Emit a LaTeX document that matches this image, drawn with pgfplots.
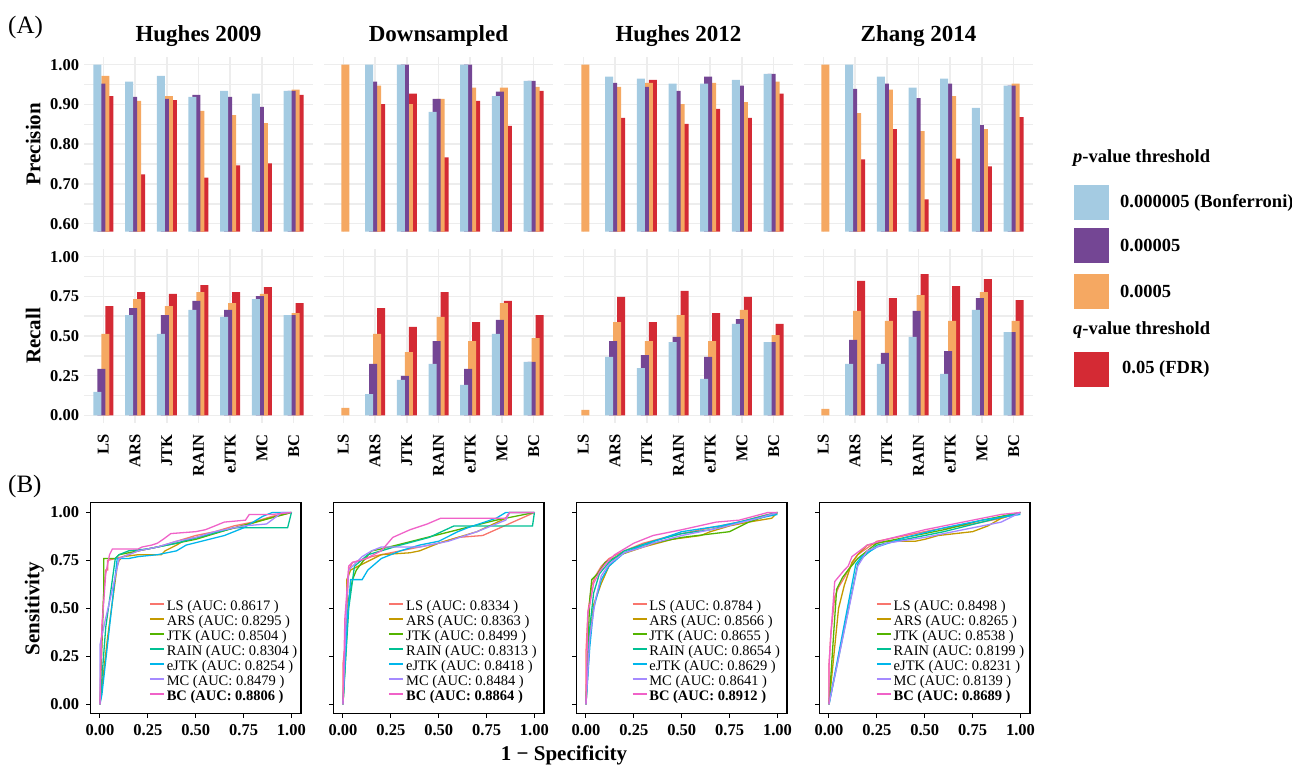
\documentclass[border=0pt]{standalone}
\usepackage{fontspec}
\setmainfont{Liberation Serif}
\usepackage{pgfplots}
\pgfplotsset{compat=1.18}
\definecolor{clb}{HTML}{A4CBE2}
\definecolor{cpu}{HTML}{744694}
\definecolor{cor}{HTML}{F5A862}
\definecolor{crd}{HTML}{D42A34}
\definecolor{gridc}{HTML}{EDEDED}
\definecolor{rLS}{HTML}{F8766D}
\definecolor{rARS}{HTML}{C49A00}
\definecolor{rJTK}{HTML}{53B400}
\definecolor{rRAIN}{HTML}{00C094}
\definecolor{reJTK}{HTML}{00B6EB}
\definecolor{rMC}{HTML}{A58AFF}
\definecolor{rBC}{HTML}{F062C8}
\newcommand\tickfont{\fontsize{16.5}{18}\selectfont\bfseries}
\pgfplotsset{
  barpanel/.style={
    scale only axis, width=228.4pt,
    xmin=-0.6, xmax=6.6, xtick={0,...,6}, xticklabels={},
    axis line style={draw=none}, major tick length=0pt, minor tick length=0pt,
    xmajorgrids, ymajorgrids, yminorgrids,
    major grid style={color=gridc, line width=1.5pt},
    minor grid style={color=gridc, line width=1.5pt},
    ybar, bar width=8pt,
    tick label style={font=\tickfont},
    yticklabel style={inner sep=0pt}, yticklabel shift=5pt,
    title style={font=\fontsize{23}{26}\selectfont\bfseries, anchor=base, at={(axis description cs:0.5,1)}, yshift=8.7pt},
    every axis y label/.style={at={(axis description cs:0,0.5)}, xshift=-51pt, rotate=90, anchor=center, font=\fontsize{21}{24}\selectfont\bfseries},
  },
  precpanel/.style={barpanel, height=175pt, ymin=0.58, ymax=1.02,
    ytick={0.6,0.7,0.8,0.9,1.0}, minor ytick={0.65,0.75,0.85,0.95}, yticklabels={}},
  recpanel/.style={barpanel, height=174.4pt, ymin=-0.05, ymax=1.05,
    ytick={0,0.25,0.5,0.75,1}, minor ytick={0.125,0.375,0.625,0.875}, yticklabels={},
    xticklabels={LS,ARS,JTK,RAIN,eJTK,MC,BC},
    xticklabel style={rotate=90, anchor=east, inner sep=0pt}, xticklabel shift=11pt},
  rocpanel/.style={
    scale only axis, width=210.6pt, height=211pt,
    xmin=-0.05, xmax=1.05, ymin=-0.05, ymax=1.05,
    xtick={0,0.25,0.5,0.75,1}, xticklabels={0.00,0.25,0.50,0.75,1.00},
    ytick={0,0.25,0.5,0.75,1}, yticklabels={},
    axis line style={line width=1.1pt, black},
    tick align=outside, major tick length=4pt, tick style={black, line width=1pt},
    xtick pos=bottom, ytick pos=left,
    tick label style={font=\tickfont},
    xticklabel style={inner sep=0pt}, xticklabel shift=6pt,
    yticklabel style={inner sep=0pt}, yticklabel shift=7pt,
    every axis y label/.style={at={(axis description cs:0,0.5)}, xshift=-56pt, rotate=90, anchor=center, font=\fontsize{21}{24}\selectfont\bfseries},
    every axis plot/.append style={line width=1.3pt, no markers},
    legend cell align=left,
    legend image code/.code={\draw[##1, line width=1.6pt] (0pt,3.5pt) -- (14pt,3.5pt);},
    legend style={draw=none, fill=none, inner sep=0pt, anchor=north west,
      font=\fontsize{14.5}{15}\selectfont,
      nodes={inner sep=0pt, text height=10.5pt, text depth=4.5pt}, column sep=2pt},
  },
}
\newcommand\bars[4]{%
  \addplot[fill=crd, draw=none, bar shift=6pt] coordinates {#4};
  \addplot[fill=cor, draw=none, bar shift=2pt] coordinates {#3};
  \addplot[fill=cpu, draw=none, bar shift=-2pt] coordinates {#2};
  \addplot[fill=clb, draw=none, bar shift=-6pt] coordinates {#1};}
\begin{document}
\begin{tikzpicture}
\path[use as bounding box] (0pt,0pt) rectangle (1292pt,765pt);
% ---------- Precision row ----------
\begin{axis}[precpanel, at={(84.3pt,533.3pt)}, anchor=south west, title={Hughes 2009},
  yticklabels={0.60,0.70,0.80,0.90,1.00}, ylabel={Precision}]
\bars{(0,1.00)(1,0.957)(2,0.972)(3,0.919)(4,0.934)(5,0.927)(6,0.934)}
     {(0,0.952)(1,0.919)(2,0.914)(3,0.924)(4,0.919)(5,0.894)(6,0.934)}
     {(0,0.972)(1,0.909)(2,0.921)(3,0.884)(4,0.873)(5,0.853)(6,0.937)}
     {(0,0.921)(1,0.724)(2,0.911)(3,0.716)(4,0.747)(5,0.752)(6,0.924)}
\end{axis}
\begin{axis}[precpanel, at={(324.3pt,533.3pt)}, anchor=south west, title={Downsampled}]
\bars{(1,1.00)(2,1.00)(3,0.881)(4,1.00)(5,0.921)(6,0.959)}
     {(1,0.957)(2,1.00)(3,0.914)(4,1.00)(5,0.932)(6,0.959)}
     {(0,1.00)(1,0.947)(2,0.901)(3,0.914)(4,0.942)(5,0.942)(6,0.944)}
     {(1,0.901)(2,0.927)(3,0.767)(4,0.909)(5,0.846)(6,0.934)}
\end{axis}
\begin{axis}[precpanel, at={(564.3pt,533.3pt)}, anchor=south west, title={Hughes 2012}]
\bars{(1,0.970)(2,0.965)(3,0.952)(4,0.952)(5,0.962)(6,0.977)}
     {(1,0.954)(2,0.944)(3,0.934)(4,0.970)(5,0.947)(6,0.977)}
     {(0,1.00)(1,0.944)(2,0.954)(3,0.901)(4,0.954)(5,0.906)(6,0.957)}
     {(1,0.866)(2,0.962)(3,0.851)(4,0.889)(5,0.866)(6,0.927)}
\end{axis}
\begin{axis}[precpanel, at={(804.3pt,533.3pt)}, anchor=south west, title={Zhang 2014}]
\bars{(1,1.00)(2,0.970)(3,0.942)(4,0.965)(5,0.891)(6,0.947)}
     {(1,0.939)(2,0.952)(3,0.916)(4,0.952)(5,0.848)(6,0.947)}
     {(0,1.00)(1,0.878)(2,0.937)(3,0.833)(4,0.921)(5,0.838)(6,0.952)}
     {(1,0.762)(2,0.838)(3,0.661)(4,0.764)(5,0.744)(6,0.868)}
\end{axis}
% ---------- Recall row ----------
\begin{axis}[recpanel, at={(84.3pt,341.8pt)}, anchor=south west,
  yticklabels={0.00,0.25,0.50,0.75,1.00}, ylabel={Recall}]
\bars{(0,0.147)(1,0.632)(2,0.513)(3,0.664)(4,0.620)(5,0.733)(6,0.632)}
     {(0,0.292)(1,0.676)(2,0.632)(3,0.721)(4,0.664)(5,0.752)(6,0.632)}
     {(0,0.513)(1,0.733)(2,0.689)(3,0.777)(4,0.708)(5,0.765)(6,0.645)}
     {(0,0.689)(1,0.777)(2,0.765)(3,0.821)(4,0.777)(5,0.809)(6,0.708)}
\end{axis}
\begin{axis}[recpanel, at={(324.3pt,341.8pt)}, anchor=south west]
\bars{(1,0.134)(2,0.223)(3,0.324)(4,0.191)(5,0.513)(6,0.336)}
     {(1,0.324)(2,0.248)(3,0.468)(4,0.292)(5,0.601)(6,0.336)}
     {(0,0.046)(1,0.513)(2,0.399)(3,0.620)(4,0.468)(5,0.708)(6,0.487)}
     {(1,0.676)(2,0.557)(3,0.777)(4,0.588)(5,0.721)(6,0.632)}
\end{axis}
\begin{axis}[recpanel, at={(564.3pt,341.8pt)}, anchor=south west]
\bars{(1,0.368)(2,0.298)(3,0.462)(4,0.229)(5,0.576)(6,0.462)}
     {(1,0.468)(2,0.380)(3,0.494)(4,0.368)(5,0.607)(6,0.462)}
     {(0,0.034)(1,0.588)(2,0.468)(3,0.632)(4,0.468)(5,0.664)(6,0.506)}
     {(1,0.746)(2,0.588)(3,0.784)(4,0.645)(5,0.746)(6,0.576)}
\end{axis}
\begin{axis}[recpanel, at={(804.3pt,341.8pt)}, anchor=south west]
\bars{(1,0.324)(2,0.324)(3,0.494)(4,0.261)(5,0.664)(6,0.525)}
     {(1,0.475)(2,0.393)(3,0.658)(4,0.405)(5,0.739)(6,0.525)}
     {(0,0.040)(1,0.658)(2,0.595)(3,0.758)(4,0.595)(5,0.777)(6,0.595)}
     {(1,0.847)(2,0.739)(3,0.891)(4,0.815)(5,0.859)(6,0.727)}
\end{axis}
% ---------- ROC row ----------
\begin{axis}[rocpanel, at={(90.4pt,51.1pt)}, anchor=south west,
  yticklabels={0.00,0.25,0.50,0.75,1.00}, ylabel={Sensitivity},
  legend style={at={(axis cs:0.256,0.545)}}]
\addplot[rLS] coordinates {(0,0)(0.005,0.3)(0.02,0.58)(0.03,0.70)(0.04,0.70)(0.04,0.75)(0.08,0.76)(0.12,0.77)(0.2,0.80)(0.3,0.82)(0.4,0.85)(0.5,0.88)(0.6,0.90)(0.7,0.93)(0.8,0.95)(0.9,0.98)(1,1)};
\addlegendentry{LS (AUC: 0.8617 )}
\addplot[rARS] coordinates {(0,0)(0.04,0.35)(0.09,0.72)(0.1,0.75)(0.12,0.77)(0.2,0.78)(0.32,0.78)(0.34,0.80)(0.4,0.83)(0.45,0.86)(0.55,0.88)(0.62,0.90)(0.75,0.93)(0.85,0.96)(0.92,0.98)(1,1)};
\addlegendentry{ARS (AUC: 0.8295 )}
\addplot[rJTK] coordinates {(0,0)(0.01,0.3)(0.02,0.6)(0.02,0.76)(0.08,0.76)(0.1,0.78)(0.2,0.80)(0.3,0.82)(0.5,0.86)(0.7,0.92)(1,1)};
\addlegendentry{JTK (AUC: 0.8504 )}
\addplot[rRAIN] coordinates {(0,0)(0.03,0.4)(0.08,0.76)(0.1,0.78)(0.15,0.80)(0.25,0.81)(0.4,0.84)(0.55,0.88)(0.7,0.92)(0.98,0.92)(1,1)};
\addlegendentry{RAIN (AUC: 0.8304 )}
\addplot[reJTK] coordinates {(0,0)(0.01,0.05)(0.09,0.76)(0.15,0.76)(0.2,0.77)(0.3,0.78)(0.4,0.80)(0.45,0.83)(0.57,0.86)(0.65,0.88)(0.75,0.92)(0.85,0.98)(0.9,1)(1,1)};
\addlegendentry{eJTK (AUC: 0.8254 )}
\addplot[rMC] coordinates {(0,0)(0,0.31)(0.03,0.45)(0.07,0.62)(0.1,0.76)(0.2,0.80)(0.3,0.82)(0.4,0.85)(0.5,0.87)(0.6,0.90)(0.75,0.93)(0.87,0.94)(0.95,1)(1,1)};
\addlegendentry{MC (AUC: 0.8479 )}
\addplot[rBC] coordinates {(0,0)(0.01,0.4)(0.03,0.68)(0.05,0.78)(0.065,0.81)(0.2,0.81)(0.22,0.82)(0.27,0.83)(0.3,0.84)(0.33,0.86)(0.37,0.89)(0.5,0.90)(0.55,0.91)(0.6,0.93)(0.65,0.95)(0.76,0.96)(0.78,0.99)(0.9,0.99)(1,1)};
\addlegendentry{\textbf{BC (AUC: 0.8806 )}}
\end{axis}
\begin{axis}[rocpanel, at={(333.4pt,51.1pt)}, anchor=south west,
  legend style={at={(axis cs:0.237,0.545)}}]
\addplot[rLS] coordinates {(0,0)(0,0.21)(0.01,0.3)(0.03,0.70)(0.05,0.74)(0.1,0.75)(0.15,0.77)(0.2,0.78)(0.3,0.80)(0.4,0.82)(0.5,0.84)(0.6,0.87)(0.73,0.88)(1,1)};
\addlegendentry{LS (AUC: 0.8334 )}
\addplot[rARS] coordinates {(0,0)(0.02,0.45)(0.02,0.65)(0.04,0.70)(0.1,0.73)(0.14,0.75)(0.2,0.78)(0.35,0.79)(0.4,0.80)(0.45,0.82)(0.5,0.84)(0.6,0.87)(0.7,0.90)(0.85,0.97)(0.87,1)(1,1)};
\addlegendentry{ARS (AUC: 0.8363 )}
\addplot[rJTK] coordinates {(0,0)(0.03,0.55)(0.05,0.65)(0.07,0.70)(0.1,0.74)(0.15,0.80)(0.2,0.81)(0.4,0.86)(0.6,0.91)(0.8,0.96)(1,1)};
\addlegendentry{JTK (AUC: 0.8499 )}
\addplot[rRAIN] coordinates {(0,0)(0.03,0.5)(0.06,0.72)(0.13,0.78)(0.2,0.80)(0.3,0.83)(0.45,0.87)(0.58,0.93)(0.99,0.93)(1,1)};
\addlegendentry{RAIN (AUC: 0.8313 )}
\addplot[reJTK] coordinates {(0,0)(0.02,0.4)(0.04,0.65)(0.1,0.65)(0.13,0.70)(0.2,0.76)(0.3,0.80)(0.4,0.83)(0.5,0.85)(0.6,0.90)(0.65,0.92)(0.8,0.97)(0.85,1)(1,1)};
\addlegendentry{eJTK (AUC: 0.8418 )}
\addplot[rMC] coordinates {(0,0)(0.02,0.55)(0.03,0.70)(0.1,0.77)(0.15,0.80)(0.2,0.82)(0.4,0.82)(0.5,0.84)(0.55,0.85)(0.7,0.90)(0.85,0.96)(0.87,1)(1,1)};
\addlegendentry{MC (AUC: 0.8484 )}
\addplot[rBC] coordinates {(0,0)(0.01,0.45)(0.03,0.72)(0.05,0.74)(0.12,0.76)(0.16,0.78)(0.2,0.80)(0.26,0.87)(0.35,0.91)(0.44,0.94)(0.51,0.97)(0.85,0.97)(0.87,1)(1,1)};
\addlegendentry{\textbf{BC (AUC: 0.8864 )}}
\end{axis}
\begin{axis}[rocpanel, at={(576.4pt,51.1pt)}, anchor=south west,
  legend style={at={(axis cs:0.238,0.545)}}]
\addplot[rLS] coordinates {(0,0)(0,0.27)(0.01,0.48)(0.03,0.62)(0.05,0.67)(0.08,0.72)(0.12,0.76)(0.2,0.80)(0.3,0.84)(0.45,0.88)(0.6,0.91)(0.8,0.95)(0.95,0.99)(1,1)};
\addlegendentry{LS (AUC: 0.8784 )}
\addplot[rARS] coordinates {(0,0)(0.02,0.35)(0.04,0.52)(0.08,0.63)(0.12,0.72)(0.18,0.78)(0.3,0.82)(0.45,0.86)(0.6,0.88)(0.65,0.90)(0.75,0.93)(0.85,0.95)(0.97,0.97)(1,1)};
\addlegendentry{ARS (AUC: 0.8566 )}
\addplot[rJTK] coordinates {(0,0)(0.01,0.3)(0.02,0.55)(0.03,0.65)(0.06,0.68)(0.1,0.74)(0.18,0.78)(0.3,0.83)(0.5,0.87)(0.75,0.90)(0.85,0.95)(1,1)};
\addlegendentry{JTK (AUC: 0.8655 )}
\addplot[rRAIN] coordinates {(0,0)(0.02,0.4)(0.04,0.58)(0.07,0.68)(0.12,0.74)(0.2,0.80)(0.35,0.85)(0.5,0.89)(0.65,0.91)(0.8,0.95)(1,1)};
\addlegendentry{RAIN (AUC: 0.8654 )}
\addplot[reJTK] coordinates {(0,0)(0.02,0.3)(0.04,0.5)(0.08,0.65)(0.12,0.72)(0.2,0.79)(0.3,0.83)(0.5,0.90)(0.7,0.93)(0.85,0.96)(1,0.99)};
\addlegendentry{eJTK (AUC: 0.8629 )}
\addplot[rMC] coordinates {(0,0)(0.02,0.35)(0.05,0.55)(0.08,0.67)(0.12,0.73)(0.2,0.79)(0.3,0.82)(0.35,0.84)(0.5,0.88)(0.7,0.92)(0.9,0.97)(1,1)};
\addlegendentry{MC (AUC: 0.8641 )}
\addplot[rBC] coordinates {(0,0)(0.01,0.48)(0.02,0.52)(0.04,0.63)(0.07,0.69)(0.1,0.73)(0.15,0.78)(0.2,0.81)(0.25,0.84)(0.35,0.88)(0.5,0.91)(0.68,0.95)(0.8,0.96)(0.95,1)(1,1)};
\addlegendentry{\textbf{BC (AUC: 0.8912 )}}
\end{axis}
\begin{axis}[rocpanel, at={(819.4pt,51.1pt)}, anchor=south west,
  legend style={at={(axis cs:0.245,0.545)}}]
\addplot[rLS] coordinates {(0,0)(0,0.2)(0.01,0.37)(0.03,0.56)(0.05,0.61)(0.08,0.66)(0.1,0.70)(0.15,0.78)(0.25,0.85)(0.4,0.88)(0.55,0.91)(0.75,0.94)(0.9,0.97)(1,1)};
\addlegendentry{LS (AUC: 0.8498 )}
\addplot[rARS] coordinates {(0,0)(0.05,0.5)(0.08,0.62)(0.12,0.74)(0.15,0.78)(0.2,0.83)(0.3,0.85)(0.45,0.85)(0.5,0.86)(0.57,0.88)(0.75,0.90)(0.83,0.93)(0.9,0.97)(1,1)};
\addlegendentry{ARS (AUC: 0.8265 )}
\addplot[rJTK] coordinates {(0,0)(0.02,0.3)(0.04,0.6)(0.07,0.66)(0.1,0.70)(0.15,0.76)(0.25,0.84)(0.4,0.87)(0.6,0.91)(0.8,0.96)(1,1)};
\addlegendentry{JTK (AUC: 0.8538 )}
\addplot[rRAIN] coordinates {(0,0)(0.15,0.73)(0.17,0.76)(0.25,0.83)(0.4,0.86)(0.6,0.90)(0.8,0.95)(1,1)};
\addlegendentry{RAIN (AUC: 0.8199 )}
\addplot[reJTK] coordinates {(0,0)(0.14,0.73)(0.17,0.77)(0.25,0.82)(0.4,0.87)(0.6,0.92)(0.8,0.96)(1,0.99)};
\addlegendentry{eJTK (AUC: 0.8231 )}
\addplot[rMC] coordinates {(0,0)(0.15,0.72)(0.2,0.80)(0.3,0.84)(0.5,0.87)(0.7,0.91)(0.9,0.95)(1,1)};
\addlegendentry{MC (AUC: 0.8139 )}
\addplot[rBC] coordinates {(0,0)(0,0.2)(0.01,0.37)(0.03,0.64)(0.08,0.70)(0.1,0.72)(0.12,0.77)(0.2,0.83)(0.3,0.86)(0.5,0.91)(0.75,0.96)(0.9,0.99)(1,1)};
\addlegendentry{\textbf{BC (AUC: 0.8689 )}}
\end{axis}
% ---------- annotations ----------
\node[anchor=base west, inner sep=0pt, font=\fontsize{25}{28}\selectfont] at (8pt,731pt) {(A)};
\node[anchor=base west, inner sep=0pt, font=\fontsize{25}{28}\selectfont] at (8pt,272pt) {(B)};
\node[anchor=base, inner sep=0pt, font=\fontsize{21}{24}\selectfont\bfseries] at (564pt,5pt) {1 − Specificity};
% legend
\begin{scope}[every node/.style={inner sep=0pt, font=\fontsize{18.5}{20}\selectfont\bfseries}]
\node[anchor=base west] at (1073pt,602pt) {\textit{p}-value threshold};
\fill[clb] (1074pt,545pt) rectangle (1109pt,580pt);
\node[anchor=west] at (1120pt,562.5pt) {0.000005 (Bonferroni)};
\fill[cpu] (1074pt,502pt) rectangle (1109pt,537pt);
\node[anchor=west] at (1120pt,519.5pt) {0.00005};
\fill[cor] (1074pt,456pt) rectangle (1109pt,491pt);
\node[anchor=west] at (1120pt,473.5pt) {0.0005};
\node[anchor=base west] at (1073pt,430pt) {\textit{q}-value threshold};
\fill[crd] (1074pt,378pt) rectangle (1109pt,413pt);
\node[anchor=west] at (1122pt,395.5pt) {0.05 (FDR)};
\end{scope}
\end{tikzpicture}
\end{document}
